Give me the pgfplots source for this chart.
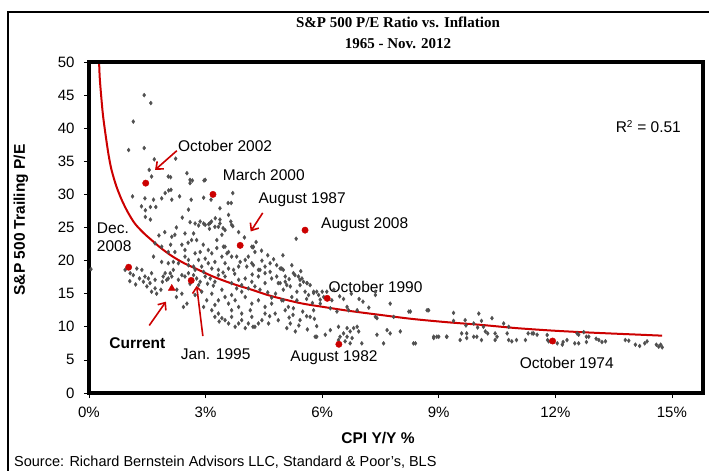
\documentclass[border=0pt]{standalone}
\usepackage{fontspec}
\setmainfont{Liberation Sans}
\newfontfamily\titlefont{Liberation Serif}
\usepackage{pgfplots}
\pgfplotsset{compat=1.18}
\usetikzlibrary{arrows.meta}
\definecolor{ptgray}{RGB}{80,80,80}
\definecolor{myred}{RGB}{204,0,0}
\newcommand{\annfont}{\fontsize{15.5bp}{18.5bp}\selectfont}
\begin{document}
\begin{tikzpicture}
\useasboundingbox (-89bp,-78bp) rectangle (620bp,393bp);
\fill[white] (-89bp,-78bp) rectangle (620bp,393bp);
\draw[black, line width=2bp] (-81bp,-80bp) -- (-81bp,381bp) -- (625bp,381bp);
\begin{axis}[
  at={(0,0)}, anchor=south west,
  scale only axis, width=614bp, height=331bp,
  xmin=0, xmax=15.8, ymin=0, ymax=50,
  xtick={0,3,6,9,12,15},
  xticklabels={0\%,3\%,6\%,9\%,12\%,15\%},
  ytick={0,5,...,50},
  tick align=outside, tick pos=left,
  major tick length=5bp,
  every tick/.style={black, line width=0.6bp},
  /pgf/number format/assume math mode=true,
  ticklabel style={font=\fontsize{15bp}{18bp}\selectfont},
  yticklabel style={xshift=-6bp},
  xticklabel style={yshift=-6bp},
  clip=false,
]
% gray scatter
\addplot[only marks, mark=diamond*, mark size=2bp, color=ptgray] table {
x y
0.05 18.7
1.42 45.0
1.59 43.8
1.14 41.0
1.02 36.7
1.42 37.0
1.68 35.3
2.23 35.4
1.55 33.7
1.61 32.7
2.04 32.7
2.10 32.6
2.52 33.2
2.60 32.2
2.66 32.1
2.96 32.1
2.99 32.2
2.60 31.7
2.11 30.7
2.05 30.6
1.96 30.2
1.12 29.7
1.44 29.4
1.66 29.2
1.87 29.4
2.13 29.2
2.33 29.7
2.63 29.2
2.95 29.5
3.14 29.2
3.70 30.2
3.66 28.7
3.58 28.7
2.56 27.7
3.37 27.9
1.35 28.2
1.45 27.6
1.58 28.1
1.72 28.1
1.45 26.6
1.58 26.2
3.59 26.9
2.60 25.8
2.82 25.3
2.95 25.6
3.08 25.5
3.15 25.9
3.33 25.1
3.37 26.2
3.70 25.2
3.10 24.8
3.25 26.4
3.45 24.9
3.65 25.9
4.22 22.0
5.33 23.3
4.23 22.1
2.73 25.6
2.86 25.9
2.99 25.4
3.12 25.7
3.24 25.1
3.37 25.6
3.50 24.6
2.47 24.1
2.69 24.1
2.13 23.6
2.21 23.9
3.42 23.9
3.29 23.1
3.67 25.4
1.70 22.6
1.87 22.1
2.39 22.4
2.47 21.6
2.64 23.1
2.77 23.1
2.94 22.4
3.07 21.6
3.16 21.1
2.86 21.3
3.50 22.1
3.59 21.3
3.29 21.9
4.19 22.1
4.27 21.3
2.21 21.3
2.04 21.3
2.47 20.6
2.56 20.1
2.73 21.1
2.82 20.1
2.99 20.3
3.07 19.6
3.24 19.8
3.42 20.6
3.50 19.6
3.67 20.6
3.72 18.6
3.85 19.1
4.02 20.1
4.10 20.6
4.19 19.6
4.36 18.6
4.53 19.1
4.66 19.6
4.83 19.3
4.96 18.8
2.90 19.1
2.69 19.1
2.56 19.3
2.30 19.6
2.17 19.8
2.04 19.6
1.66 20.6
1.87 19.8
3.16 18.8
3.33 18.6
3.59 18.8
0.93 18.6
1.06 18.1
1.14 17.8
1.23 18.8
1.36 18.6
1.44 17.6
1.53 17.3
1.61 18.1
1.40 16.8
1.70 17.1
1.57 16.6
1.96 18.1
1.91 17.6
2.04 17.3
2.13 17.6
2.00 17.1
1.89 16.8
2.09 18.1
2.17 18.6
2.39 17.8
2.47 17.6
2.56 18.1
2.69 17.8
2.73 18.6
2.77 17.3
2.86 16.8
2.82 16.3
2.30 17.1
2.99 17.6
3.12 17.3
3.24 16.8
3.33 17.8
3.50 17.6
3.67 16.6
3.85 17.1
4.02 17.3
3.93 16.3
4.19 16.8
4.36 17.6
4.53 16.6
4.70 17.3
4.87 16.6
5.05 16.8
4.27 16.1
1.61 15.3
1.70 15.8
1.74 15.0
1.49 16.1
2.26 15.6
2.39 15.0
3.16 15.0
3.33 14.0
3.50 14.5
3.59 13.5
3.76 14.0
3.85 13.0
4.02 14.5
4.19 13.5
4.36 14.0
4.53 13.0
4.70 13.5
4.96 14.0
3.03 14.0
3.24 13.3
3.93 15.3
3.67 14.8
3.42 15.6
2.90 15.3
2.73 14.8
2.43 13.0
2.52 13.5
3.16 12.5
3.33 12.0
3.24 11.5
3.42 11.3
3.67 11.5
3.93 11.0
4.10 10.5
4.27 10.0
4.45 11.0
4.62 10.5
4.87 11.0
3.67 12.5
3.93 12.0
3.50 11.0
3.85 10.5
4.19 11.5
4.53 12.0
4.79 12.0
3.76 10.0
4.02 9.8
4.36 10.5
3.59 10.5
4.22 10.0
5.25 11.8
5.60 11.6
5.86 8.5
5.80 11.2
3.46 22.1
3.55 21.1
3.80 20.6
3.89 19.8
4.06 19.1
4.23 19.3
4.40 18.6
4.53 18.1
4.66 18.3
4.83 17.6
4.92 16.6
5.00 15.6
5.18 16.1
5.35 15.3
5.43 17.1
5.61 16.6
5.78 15.1
5.95 14.1
4.44 21.5
4.60 20.8
4.75 20.2
4.30 22.8
4.00 23.5
3.85 24.3
4.99 20.8
4.92 18.8
5.00 18.6
5.26 18.1
5.39 17.6
5.48 17.3
5.52 16.8
5.43 16.3
5.61 16.6
5.69 16.3
5.78 15.3
5.56 15.3
5.65 14.8
5.86 15.3
5.91 14.8
6.00 15.3
6.04 14.5
6.12 15.3
5.09 16.3
5.22 14.5
5.35 14.0
5.13 13.0
5.26 12.8
5.05 12.5
5.00 14.0
5.78 12.5
5.69 11.5
5.43 11.0
5.18 10.5
5.09 9.8
5.31 9.3
6.21 12.8
6.38 12.3
6.64 13.0
6.68 12.5
6.90 12.5
7.37 14.8
7.37 15.3
7.75 13.5
7.37 11.5
7.41 11.3
7.84 11.5
8.23 12.3
8.70 12.5
9.38 12.1
9.68 11.0
9.90 10.5
6.42 10.0
6.64 9.8
6.81 9.8
6.90 10.0
6.72 9.3
6.55 9.0
6.46 8.5
6.64 8.5
6.77 8.3
6.59 7.8
6.72 7.5
6.42 8.0
7.02 7.5
6.94 9.3
5.86 10.1
5.82 8.5
6.08 8.8
6.21 9.5
7.41 8.8
7.67 9.5
7.75 9.0
8.01 9.3
8.35 7.5
8.87 8.3
8.95 8.5
9.21 8.5
9.59 9.0
9.72 8.3
9.98 8.5
7.58 7.5
8.27 12.3
8.74 12.5
10.03 12.0
10.10 10.9
9.38 10.9
10.37 11.3
10.67 10.5
10.80 10.0
10.00 9.9
9.70 10.2
11.44 9.0
11.79 8.76
12.56 9.0
12.73 9.2
12.80 8.5
8.40 7.5
8.87 8.5
9.00 8.5
9.20 8.5
9.55 8.0
9.72 9.0
9.90 8.5
10.10 8.0
10.26 9.0
10.50 8.5
10.80 8.0
11.00 8.0
11.30 9.0
11.80 8.0
12.05 7.5
12.20 7.7
12.50 7.5
12.80 7.7
13.05 8.2
13.20 7.7
13.80 8.0
14.06 7.3
14.30 7.5
14.60 7.3
14.66 7.0
10.15 10.0
10.20 9.3
10.45 9.0
10.45 8.0
10.76 9.0
10.88 7.8
11.23 8.0
11.40 9.0
11.53 8.8
11.83 7.8
12.18 7.3
12.30 8.0
12.60 8.8
12.60 7.5
12.86 8.5
13.12 8.0
13.29 7.8
13.89 7.9
14.17 7.1
14.36 7.8
14.71 7.3
14.75 6.9
5.30 17.8
5.15 17.2
5.45 18.4
5.05 17.6
5.22 19.3
5.60 14.2
5.75 13.6
5.95 13.5
6.25 14.0
6.45 14.6
6.30 15.6
6.55 14.2
6.75 15.0
7.05 13.8
7.20 12.9
6.95 14.2
4.60 15.2
4.80 15.0
4.40 15.6
4.70 14.4
4.10 15.8
3.80 15.8
3.20 16.2
3.05 16.5
2.60 16.5
2.95 18.3
3.45 18.2
3.75 18.0
4.20 17.9
4.45 20.0
1.20 16.4
1.30 17.3
1.05 16.9
1.85 15.6
2.25 14.5
2.95 13.0
3.35 10.8
4.15 12.5
4.65 11.6
5.15 11.4
5.50 12.3
5.40 10.2
5.62 9.6
2.40 26.5
2.25 25.0
1.95 24.3
2.55 22.7
2.10 22.4
1.80 23.8
};
% trend line
\addplot[myred, line width=2bp, smooth] coordinates {
(0.26,50) (0.28,47.3) (0.35,42.5) (0.41,39.7) (0.5,36.1) (0.58,33.7)
(0.7,31.3) (0.84,29.2) (1.0,27.3) (1.18,25.6) (1.4,24.2) (1.61,23.1)
(1.85,21.9) (2.13,20.7) (2.45,19.6) (2.82,18.6) (3.15,17.7) (3.5,16.9)
(3.85,16.2) (4.19,15.6) (4.6,14.8) (5.05,14.1) (5.5,13.5) (6.03,13.0)
(6.7,12.4) (7.49,11.8) (8.3,11.2) (9.2,10.7) (10.07,10.3) (11,9.8)
(12,9.4) (13,9.1) (14,8.85) (14.75,8.66)
};
% highlighted months
\addplot[only marks, mark=*, mark size=3.2bp, color=myred] coordinates {
(1.46,31.7) (3.19,30.0) (3.89,22.3) (5.56,24.6) (1.02,19.0)
(2.63,17.0) (6.13,14.3) (6.43,7.36) (11.93,7.85)
};
\addplot[only marks, mark=triangle*, mark size=4bp, color=myred] coordinates {(2.13,15.8)};
% arrows
\begin{scope}[myred, line width=1.6bp, -{Straight Barb[length=6bp,width=10bp]}]
\draw (axis cs:2.26,36.6) -- (axis cs:1.70,33.7);
\draw (axis cs:4.47,27.2) -- (axis cs:4.16,24.4);
\draw (axis cs:1.55,10.2) -- (axis cs:1.98,13.8);
\draw (axis cs:2.93,8.6) -- (axis cs:2.77,16.2);
\end{scope}
% annotations
\begin{scope}[inner sep=0pt, anchor=west, font=\annfont]
\node[anchor=west] at (axis cs:2.29,37.3) {October 2002};
\node[anchor=west] at (axis cs:3.44,32.9) {March 2000};
\node[anchor=west] at (axis cs:4.36,29.2) {August 1987};
\node[anchor=west] at (axis cs:5.97,25.4) {August 2008};
\node[anchor=west, align=left] at (axis cs:0.20,23.5) {Dec.\\2008};
\node[anchor=west] at (axis cs:0.52,7.6) {\bfseries Current};
\node[anchor=west] at (axis cs:2.36,5.85) {Jan. 1995};
\node[anchor=west] at (axis cs:6.16,16.06) {October 1990};
\node[anchor=west] at (axis cs:5.18,5.3) {August 1982};
\node[anchor=west] at (axis cs:11.08,4.5) {October 1974};
\node[anchor=west] at (axis cs:13.55,40.3) {R\textsuperscript{\fontsize{10bp}{12bp}\selectfont 2} = 0.51};
\end{scope}
% thick frame
\draw[black, line width=3.2bp] (rel axis cs:0,0) rectangle (rel axis cs:1,1);
\end{axis}
% titles and labels
\node[font=\titlefont\bfseries\fontsize{15bp}{17bp}\selectfont] at (309bp,371bp) {S\&P 500 P/E Ratio vs. Inflation};
\node[font=\titlefont\bfseries\fontsize{15bp}{17bp}\selectfont] at (309bp,349bp) {1965 - Nov. 2012};
\node[font=\bfseries\fontsize{15.5bp}{18bp}\selectfont, rotate=90] at (-68bp,173bp) {S\&P 500 Trailing P/E};
\node[font=\bfseries\fontsize{15.5bp}{18bp}\selectfont] at (289bp,-45bp) {CPI Y/Y \%};
\node[font=\fontsize{14.5bp}{17bp}\selectfont, anchor=west, inner sep=0pt] at (-75bp,-69bp) {Source: Richard Bernstein Advisors LLC, Standard \& Poor's, BLS};
\end{tikzpicture}
\end{document}
